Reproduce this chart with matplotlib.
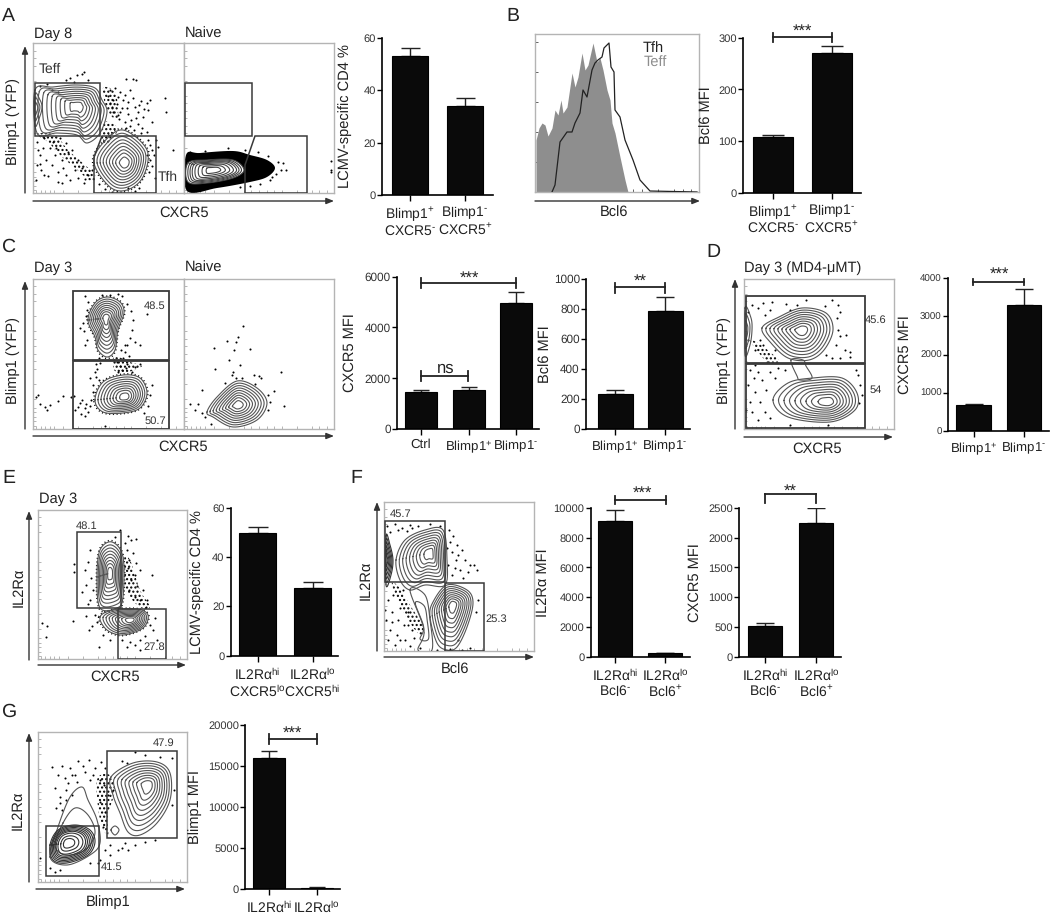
import matplotlib
matplotlib.use("Agg")
import matplotlib.pyplot as plt
import numpy as np
from matplotlib.patches import Polygon

plt.rcParams["font.family"] = ["Liberation Sans", "DejaVu Sans"]
plt.rcParams["mathtext.fontset"] = "custom"
plt.rcParams["mathtext.rm"] = "Liberation Sans"
plt.rcParams["mathtext.default"] = "regular"
plt.rcParams["text.hinting"] = "no_hinting"

W, H = 1050, 915
RINGS = [1, .9, .8, .7, .6, .5, .4, .3, .18]
TIGHT = [1, .93, .86, .79, .72, .65, .55, .4, .25]
FEW = [1, .7, .4]

# bar values
a_vals, a_tops = [53, 34], [56.2, 37.2]
b_vals, b_tops = [109, 270], [112, 284.5]
c1_vals, c1_tops = [1445, 1550, 4975], [1535, 1665, 5385]
c2_vals, c2_tops = [235, 790], [260, 882]
d_vals, d_tops = [670, 3300], [700, 3700]
e_vals, e_tops = [49.6, 27.3], [52.3, 29.8]
f1_vals, f1_tops = [9130, 250], [9844, 280]
f2_vals, f2_tops = [513, 2238], [575, 2494]
g_vals, g_tops = [15950, 120], [16860, 150]

PLUS, MINUS = "$^{+}$", r"$^{\text{-}}$"
blimp_labels = ["Blimp1" + PLUS + "\nCXCR5" + MINUS, "Blimp1" + MINUS + "\nCXCR5" + PLUS]
blimp_short = ["Blimp1" + PLUS, "Blimp1" + MINUS]
c1_labels = ["Ctrl", "Blimp1" + PLUS, "Blimp1" + MINUS]
e_labels = ["IL2Rα$^{hi}$\nCXCR5$^{lo}$", "IL2Rα$^{lo}$\nCXCR5$^{hi}$"]
f_labels = ["IL2Rα$^{hi}$\nBcl6" + MINUS, "IL2Rα$^{lo}$\nBcl6" + PLUS]
g_labels = ["IL2Rα$^{hi}$", "IL2Rα$^{lo}$"]

# flow cytometry shapes and dots, read in image pixels
a_teff = [(35, 90), (53, 87), (77, 85), (95, 88), (102, 100), (107, 112), (100, 133), (87, 143), (77, 135), (57, 133), (37, 133)]
a_tfh = [(94, 163), (103, 143), (123, 130), (147, 150), (143, 177), (127, 190), (110, 187)]
a_left = [(35, 94), (40, 100), (42, 107), (40, 116), (35, 126)]
a_neck = [(101, 135), (105, 122), (115, 125), (117, 132), (108, 143), (101, 142)]
a_band = [(36, 134), (55, 135), (68, 150), (85, 165), (95, 175), (92, 182), (75, 168), (60, 155), (48, 142)]
a_cloud = [(103, 88), (115, 92), (118, 110), (117, 120), (107, 110)]
a_dots = [(84, 72), (82, 74), (77, 75), (70, 78), (88, 80), (74, 82), (66, 80), (126, 79), (133, 79), (136, 80), (165, 98), (166, 112),
          (150, 100), (147, 103), (141, 101), (110, 90), (115, 88), (120, 92), (108, 96), (113, 100), (118, 97), (125, 95), (130, 90),
          (112, 107), (117, 104), (122, 108), (128, 102), (135, 107), (138, 112), (128, 114), (120, 112), (143, 117), (148, 110), (138, 124),
          (131, 120), (125, 122), (118, 115), (113, 112), (110, 103), (119, 119), (126, 128), (134, 130), (142, 128), (152, 122), (156, 140),
          (148, 140), (158, 147), (173, 150), (147, 132), (40, 86), (47, 84), (52, 90), (58, 92), (44, 138), (50, 148), (38, 150), (46, 160),
          (41, 170), (55, 155), (63, 168), (58, 182), (62, 183), (84, 183), (85, 179), (75, 170), (68, 152), (37, 142), (53, 142), (60, 138),
          (66, 143), (72, 150), (78, 160), (82, 168), (88, 175), (92, 170), (40, 164), (36, 180), (48, 176), (152, 166), (155, 178), (150, 160),
          (128, 188), (135, 191), (105, 189), (99, 184), (112, 192), (139, 188), (147, 155), (152, 150), (123, 100), (127, 108), (133, 98),
          (139, 105), (144, 109), (130, 126), (136, 118), (141, 133), (150, 145), (154, 155), (149, 172), (40, 155), (37, 165), (44, 175),
          (52, 165), (58, 172), (66, 175), (70, 180), (78, 178), (43, 148), (56, 148), (62, 160)]
a_naive_blob = [(186, 155), (200, 153), (233, 151), (250, 155), (267, 160), (275, 168), (267, 177), (250, 182), (217, 188), (187, 191)]
a_naive_core = [(188, 163), (207, 160), (233, 160), (244, 170), (233, 178), (207, 183), (188, 182)]
a_naive_dots = [(278, 162), (283, 163), (281, 170), (276, 174), (270, 180), (260, 184), (250, 186), (240, 187), (286, 170), (331, 161),
                (331, 170), (331, 172), (268, 156), (258, 152), (245, 150), (228, 148), (205, 151), (190, 152), (272, 177), (200, 190)]

hist_grey_x = [536, 539, 542, 545, 548, 552, 555, 558, 561, 563, 567, 572, 575, 578, 582, 585, 588, 593, 597, 600, 603, 607, 610, 612, 615, 620, 625, 628]
hist_grey_y = [140, 128, 123, 125, 136, 128, 110, 115, 100, 113, 107, 73, 87, 77, 53, 70, 65, 43, 62, 58, 70, 90, 100, 123, 133, 157, 180, 192]
hist_line_x = [552, 555, 560, 567, 572, 575, 580, 583, 587, 592, 595, 598, 602, 604, 609, 611, 614, 615, 620, 625, 633, 640, 650, 697]
hist_line_y = [192, 185, 142, 132, 132, 123, 113, 90, 97, 70, 63, 60, 57, 48, 43, 67, 72, 110, 117, 140, 160, 180, 191, 192]

c_top = [(88, 320), (95, 303), (107, 297), (120, 302), (124, 313), (118, 330), (115, 350), (107, 357), (98, 350), (95, 337)]
c_bot = [(95, 400), (103, 382), (123, 375), (140, 378), (147, 393), (140, 408), (123, 413), (103, 412)]
c_neck = [(115, 356), (130, 362), (142, 366), (128, 372), (115, 371), (113, 362)]
c_dots = [(85, 296), (88, 302), (87, 310), (86, 316), (83, 323), (80, 328), (84, 331), (87, 340), (85, 345), (102, 295), (110, 295), (118, 294),
          (122, 296), (127, 304), (131, 311), (133, 320), (132, 330), (130, 338), (135, 342), (140, 345), (147, 314), (127, 345), (125, 352),
          (123, 358), (117, 362), (120, 366), (127, 364), (135, 367), (140, 364), (118, 372), (100, 363), (97, 369), (96, 377), (93, 385),
          (99, 380), (93, 392), (91, 400), (90, 406), (88, 412), (85, 408), (80, 403), (74, 396), (71, 397), (63, 396), (58, 401), (50, 405),
          (47, 410), (45, 407), (38, 395), (36, 397), (40, 404), (75, 410), (85, 416), (105, 426), (152, 385), (150, 395), (148, 406), (144, 413),
          (125, 345), (121, 350), (129, 356), (114, 360), (122, 370), (132, 372), (126, 368), (99, 358), (96, 364), (95, 372), (90, 378),
          (82, 400), (78, 407), (81, 414), (86, 404)]
c_naive = [(207, 412), (217, 397), (237, 381), (257, 388), (267, 403), (257, 420), (233, 427), (213, 417)]
c_naive_dots = [(243, 326), (238, 337), (236, 342), (227, 341), (214, 348), (234, 350), (250, 349), (229, 360), (240, 365), (215, 369), (233, 372),
                (242, 378), (236, 378), (254, 375), (259, 376), (261, 378), (255, 384), (281, 372), (274, 391), (268, 395), (284, 406), (202, 390),
                (198, 404), (190, 404), (195, 410), (202, 413), (205, 417), (211, 424), (268, 410), (270, 402), (232, 375), (225, 383)]

d_top = [(762, 328), (779, 317), (802, 308), (826, 313), (833, 330), (824, 350), (809, 360), (788, 358), (771, 343)]
d_left = [(745, 308), (751, 318), (752, 330), (750, 345), (745, 355)]
d_bot = [(773, 400), (788, 383), (813, 378), (842, 378), (857, 393), (855, 410), (830, 422), (788, 417)]
d_neck = [(791, 360), (797, 376), (800, 380), (812, 378), (806, 366), (803, 360)]
d_band = [(750, 340), (758, 343), (770, 352), (780, 362), (770, 364), (758, 352)]
d_dots = [(748, 312), (752, 305), (758, 308), (763, 303), (765, 315), (770, 310), (772, 302), (786, 304), (790, 310), (797, 305), (806, 300),
          (825, 306), (832, 300), (838, 305), (840, 312), (837, 318), (838, 330), (836, 345), (840, 336), (846, 335), (845, 350), (850, 352),
          (826, 355), (832, 358), (850, 357), (840, 358), (750, 370), (754, 378), (748, 385), (758, 372), (762, 380), (755, 392), (750, 402),
          (760, 402), (766, 390), (770, 372), (775, 378), (752, 412), (765, 412), (758, 420), (770, 418), (746, 410), (778, 368), (767, 362),
          (785, 370), (755, 365), (790, 425), (828, 425), (858, 375), (860, 385), (856, 370), (859, 403), (862, 395), (748, 340), (755, 350),
          (760, 340), (763, 345), (775, 350)]

e_top = [(97, 577), (100, 550), (112, 542), (123, 557), (123, 597), (117, 608), (100, 608)]
e_bot = [(100, 617), (113, 610), (137, 609), (148, 615), (143, 628), (123, 635), (107, 630)]
e_band = [(124, 560), (130, 560), (140, 590), (150, 607), (140, 607), (126, 590)]
e_dots = [(125, 543), (131, 540), (136, 539), (127, 550), (133, 553), (129, 560), (136, 563), (128, 568), (135, 575), (140, 570), (131, 580), (137, 586),
          (143, 590), (129, 590), (135, 597), (147, 600), (152, 575), (140, 600), (146, 607), (90, 550), (88, 562), (85, 570), (91, 578), (86, 585),
          (82, 592), (74, 564), (74, 572), (93, 590), (90, 600), (88, 604), (95, 615), (97, 622), (92, 626), (89, 630), (86, 616), (42, 623), (47, 626),
          (46, 637), (73, 621), (122, 640), (130, 642), (135, 645), (127, 647), (140, 640), (145, 636), (150, 625), (155, 618), (153, 630), (157, 640),
          (140, 650), (99, 647), (110, 640), (103, 635), (120, 530), (115, 537), (128, 536)]

f_topl = [(386, 536), (390, 545), (393, 560), (391, 575), (386, 585)]
f_top = [(396, 560), (405, 540), (425, 530), (443, 530), (447, 560), (445, 585), (425, 585), (410, 590), (400, 580)]
f_bot = [(430, 617), (433, 602), (447, 585), (467, 590), (473, 603), (467, 627), (457, 647), (447, 650), (437, 643)]
f_stem = [(410, 590), (425, 595), (430, 620), (432, 650), (418, 650), (424, 630)]
f_band = [(392, 585), (398, 586), (410, 605), (424, 628), (420, 635), (405, 615)]
f_dots = [(387, 526), (395, 524), (402, 528), (410, 525), (418, 526), (430, 524), (440, 526), (390, 532), (398, 530), (407, 531), (412, 528),
          (449, 530), (453, 536), (457, 545), (462, 550), (452, 552), (456, 560), (465, 560), (470, 565), (460, 570), (452, 575), (474, 565),
          (468, 572), (477, 570), (448, 565), (450, 542), (388, 600), (392, 612), (398, 620), (390, 630), (404, 625), (388, 640), (397, 635),
          (405, 640), (412, 630), (386, 620), (395, 645), (410, 646), (420, 648), (393, 595), (400, 608), (408, 612), (414, 638), (403, 590),
          (437, 650), (450, 649), (462, 650), (470, 648), (478, 600), (476, 612), (458, 640), (400, 640), (392, 622), (385, 610), (408, 625),
          (455, 568), (463, 578), (458, 555), (447, 548)]

g_top = [(111, 777), (133, 763), (157, 762), (170, 773), (170, 800), (157, 823), (140, 835), (128, 832), (120, 813), (113, 795)]
g_mid = [(50, 857), (58, 827), (70, 797), (82, 787), (88, 800), (97, 820), (100, 843), (90, 855), (67, 865)]
g_mid2 = [(63, 823), (75, 808), (88, 815), (95, 833), (85, 850), (65, 855), (55, 845)]
g_low = [(50, 845), (58, 830), (75, 825), (90, 830), (95, 842), (88, 855), (67, 863), (53, 860)]
g_spot = [(111, 830), (115, 826), (119, 830), (115, 835)]
g_band = [(97, 780), (110, 775), (115, 790), (108, 815), (108, 835), (100, 820)]
g_dots = [(52, 767), (62, 766), (70, 768), (78, 761), (89, 760), (101, 762), (95, 768), (85, 772), (75, 775), (65, 778), (55, 788), (60, 797),
          (68, 783), (77, 782), (90, 780), (100, 780), (105, 768), (62, 810), (56, 808), (66, 800), (72, 795), (122, 761), (127, 763), (135, 752),
          (145, 755), (160, 757), (172, 758), (174, 790), (172, 805), (110, 845), (118, 850), (125, 843), (135, 845), (145, 842), (155, 840),
          (105, 850), (110, 855), (100, 860), (90, 863), (98, 863), (40, 858), (50, 868), (55, 872), (60, 870), (103, 827), (105, 812), (100, 802),
          (108, 795), (104, 785), (113, 790), (122, 848), (128, 850), (58, 775), (66, 790), (72, 775), (60, 803), (83, 766), (93, 775)]


def px_rect(x0, x1, y0, y1):
    return [x0 / W, 1 - y1 / H, (x1 - x0) / W, (y1 - y0) / H]


def smooth(pts, n=10):
    # closed catmull-rom through the outline
    p = np.array(pts, float)
    t = np.linspace(0, 1, n, endpoint=False)[:, None]
    out = []
    for i in range(len(p)):
        p0, p1, p2, p3 = p[i - 1], p[i], p[(i + 1) % len(p)], p[(i + 2) % len(p)]
        out.append(.5 * (2 * p1 + (p2 - p0) * t + (2 * p0 - 5 * p1 + 4 * p2 - p3) * t ** 2 + (3 * p1 - p0 - 3 * p2 + p3) * t ** 3))
    out = np.vstack(out)
    return np.vstack([out, out[:1]])


def rings(ax, outline, center=None, scales=RINGS, color="#555555", lw=.8):
    p = smooth(outline)
    c = np.mean(outline, axis=0) if center is None else np.array(center)
    for s in scales:
        r = c + (p - c) * s
        ax.plot(r[:, 0], r[:, 1], color=color, lw=lw, zorder=3)


def halo(ax, outline, center=None, scale=1.04, lw=1.2):
    # the dense dots that sit against the outer contour
    p = smooth(outline)
    c = np.mean(outline, axis=0) if center is None else np.array(center)
    r = c + (p - c) * scale
    ax.plot(r[:, 0], r[:, 1], color="black", lw=lw, ls=(0, (.6, 1.6)), zorder=2)


def stipple(ax, outline):
    ax.add_patch(Polygon(smooth(outline), closed=True, fc="none", ec="black", lw=0, hatch="....", zorder=2))


def flow_axes(x0, x1, y0, y1, tick_color="#999999"):
    ax = fig.add_axes(px_rect(x0, x1, y0, y1))
    ax.set_xlim(x0, x1)
    ax.set_ylim(y1, y0)
    for s in ax.spines.values():
        s.set_color("#b4b4b4")
        s.set_linewidth(1)
    log_steps = [.02, .05, .08, .11, .14, .2, .3, .4, .45, .5, .55, .6, .65, .75, .85, .9, .95]
    ax.set_xticks([x0 + f * (x1 - x0) for f in log_steps])
    ax.set_yticks([y1 - f * (y1 - y0) for f in log_steps])
    ax.tick_params(direction="in", length=2, width=.5, color=tick_color, labelbottom=False, labelleft=False)
    return ax


def dots(ax, pts):
    xy = np.array(pts)
    ax.scatter(xy[:, 0], xy[:, 1], s=2.2, c="black", lw=0, zorder=2)


def gate(ax, pts, lw=1.1):
    ax.add_patch(Polygon(pts, closed=True, fill=False, ec="#3a3a3a", lw=lw, zorder=4))


def gate_box(ax, x0, x1, y0, y1, lw=1.1):
    gate(ax, [(x0, y0), (x1, y0), (x1, y1), (x0, y1)], lw)


def note(ax, x, y, s, size=8, color="#333333"):
    ax.text(x, y, s, fontsize=size, ha="center", va="center", color=color, zorder=5)


def bars(x0, x1, y0, y1, ymax, ticks, centers, width, vals, tops, labels, ylabel, label_x, tick_size=8, cat_size=10):
    ax = fig.add_axes(px_rect(x0, x1, y0, y1))
    ax.set_xlim(x0, x1)
    ax.set_ylim(0, ymax)
    ax.bar(centers, vals, width=width, color="#0a0a0a", ec="black", lw=.8, zorder=2)
    ax.errorbar(centers, vals, yerr=[np.zeros(len(vals)), np.array(tops) - np.array(vals)], fmt="none",
                ecolor="#222222", elinewidth=1, capthick=1, capsize=width * .19, zorder=1)
    for s in ("top", "right"):
        ax.spines[s].set_visible(False)
    ax.spines["left"].set_linewidth(1.2)
    ax.spines["bottom"].set_linewidth(1.2)
    ax.set_yticks(ticks)
    ax.set_xticks(centers)
    ax.set_xticklabels(labels, fontsize=cat_size, color="#222222", linespacing=1.05)
    ax.tick_params(axis="y", labelsize=tick_size, length=3.5, width=1, pad=1, labelcolor="#333333")
    ax.tick_params(axis="x", length=4, width=1, pad=3)
    ax.set_ylabel(ylabel, fontsize=10.5, color="#222222")
    ax.yaxis.set_label_coords((label_x - x0) / (x1 - x0), .5)
    ax.patch.set_alpha(0)
    return ax


def bracket(x0, x1, y, y_cap0, y_cap1, mark, mark_x, mark_y, size=12):
    page.plot([x0, x1], [y, y], color="#222222", lw=1.3)
    page.plot([x0, x0], [y_cap0, y_cap1], color="#222222", lw=1.3)
    page.plot([x1, x1], [y_cap0, y_cap1], color="#222222", lw=1.3)
    if mark:
        page.text(mark_x, mark_y, mark, fontsize=size, ha="center", va="center", color="#222222")


def arrow(x0, y0, x1, y1, color="#333333"):
    page.annotate("", xy=(x1, y1), xytext=(x0, y0),
                  arrowprops=dict(arrowstyle="-|>,head_width=.18,head_length=.45", color=color, lw=1, shrinkA=0, shrinkB=0))


def label(x, y, s, size=10.5, rotation=0, ha="center", color="#222222"):
    page.text(x, y, s, fontsize=size, rotation=rotation, ha=ha, va="center", color=color)


fig = plt.figure(figsize=(W / 100, H / 100), dpi=100)

# A flow
ax = flow_axes(33, 184, 43, 193)
dots(ax, a_dots)
stipple(ax, a_band)
stipple(ax, a_neck)
stipple(ax, a_cloud)
halo(ax, a_tfh, (125, 163))
rings(ax, a_teff, (78, 106))
rings(ax, a_left, (35, 108), FEW)
rings(ax, a_tfh, (125, 163))
gate_box(ax, 35, 100, 83, 136)
gate(ax, [(94, 193), (94, 157), (102, 136), (156, 136), (156, 193)])
note(ax, 50, 69, "Teff", 10)
note(ax, 168, 177, "Tfh", 10)
ax = flow_axes(184, 334, 43, 193)
dots(ax, a_naive_dots)
ax.add_patch(Polygon(smooth(a_naive_blob), closed=True, fc="black", ec="none", zorder=2))
ax.add_patch(Polygon(smooth(a_naive_core), closed=True, fc="white", ec="none", zorder=2))
rings(ax, a_naive_core, (213, 170), [1, .92, .84, .76, .66, .54, .4, .25], "#444444")
gate_box(ax, 185, 252, 83, 136)
gate(ax, [(245, 193), (245, 165), (255, 136), (307, 136), (307, 193)])

# B histogram
ax = flow_axes(535, 699, 34, 192, "#222222")
ax.set_yticks([42, 72, 102, 132, 162])
ax.fill_between(hist_grey_x, hist_grey_y, 192, color="#8e8e8e", lw=0, zorder=2)
ax.plot(hist_line_x, hist_line_y, color="#222222", lw=.9, zorder=3)
note(ax, 653.5, 48, "Tfh", 10.5, "#222222")
note(ax, 655, 63, "Teff", 10.5, "#8e8e8e")

# C flow
ax = flow_axes(33, 184, 279, 429)
dots(ax, c_dots)
stipple(ax, c_neck)
halo(ax, c_top, (106, 318))
halo(ax, c_bot, (125, 397))
rings(ax, c_top, (106, 318))
rings(ax, c_bot, (125, 397))
gate_box(ax, 73, 169, 291, 360, 1.3)
gate_box(ax, 73, 169, 361, 429, 1.3)
note(ax, 155, 306, "48.5")
note(ax, 155, 421, "50.7")
ax = flow_axes(184, 334, 279, 429)
dots(ax, c_naive_dots)
rings(ax, c_naive, (238, 405))

# D flow
ax = flow_axes(744, 894, 279, 429)
dots(ax, d_dots)
stipple(ax, d_band)
rings(ax, d_top, (802, 330))
rings(ax, d_left, (745, 330), FEW)
rings(ax, d_neck, None, [1])
rings(ax, d_bot, (828, 402))
gate_box(ax, 746, 865, 296, 363, 1.3)
gate_box(ax, 746, 865, 364, 428, 1.3)
note(ax, 876, 320, "45.6")
note(ax, 876, 390, "54")

# E flow
ax = flow_axes(38, 187, 510, 659)
dots(ax, e_dots)
stipple(ax, e_band)
halo(ax, e_top, (110, 573))
halo(ax, e_bot, (131, 620))
rings(ax, e_top, (110, 573))
rings(ax, e_bot, (131, 620))
gate_box(ax, 77, 121, 532, 608)
gate(ax, [(118, 659), (118, 609), (166, 609), (166, 659)])
note(ax, 87, 526, "48.1")
note(ax, 154.5, 647.5, "27.8")

# F flow
ax = flow_axes(384, 534, 502, 651)
dots(ax, f_dots)
stipple(ax, f_band)
rings(ax, f_top, (430, 553))
rings(ax, f_topl, (386, 560), [1, .85, .7, .55, .4, .25], "#333333")
rings(ax, f_bot, (453, 605))
rings(ax, f_stem, None, [1, .6])
gate_box(ax, 385, 445, 521, 582)
gate(ax, [(445, 651), (445, 583), (484, 583), (484, 651)])
note(ax, 401, 514.5, "45.7")
note(ax, 496, 619, "25.3")

# G flow
ax = flow_axes(38, 187, 732, 882)
dots(ax, g_dots)
stipple(ax, g_band)
rings(ax, g_top, (148, 785))
rings(ax, g_mid, None, [1])
rings(ax, g_mid2, None, [1])
rings(ax, g_low, (68, 843), TIGHT, "#333333")
rings(ax, g_spot, None, [1])
gate_box(ax, 46, 99, 826, 876)
gate_box(ax, 107, 177, 751, 838)
note(ax, 163.7, 743, "47.9")
note(ax, 111.7, 866.7, "41.5")

# bar panels
bars(382, 493, 37.7, 195.3, 60, [0, 20, 40, 60], [409.8, 465], 36, a_vals, a_tops, blimp_labels, "LCMV-specific CD4 %", 352)
bars(743, 861, 37.7, 193, 300, [0, 100, 200, 300], [772.7, 831.5], 40, b_vals, b_tops, blimp_labels, "Bcl6 MFI", 714)
bars(397, 539, 276.7, 429, 6000, [0, 2000, 4000, 6000], [421, 468.5, 516], 32, c1_vals, c1_tops, c1_labels, "CXCR5 MFI", 357, 8.5, 9.5)
bars(586, 690, 279, 429, 1000, [0, 200, 400, 600, 800, 1000], [615, 665], 35, c2_vals, c2_tops, blimp_short, "Bcl6 MFI", 553, 8.5, 9.5)
bars(948, 1049, 278, 431, 4000, [0, 1000, 2000, 3000, 4000], [973.5, 1024], 34.5, d_vals, d_tops, blimp_short, "CXCR5 MFI", 912, 7, 9.5)
bars(230.7, 338, 507.7, 655.7, 60, [0, 20, 40, 60], [257.5, 312.5], 37, e_vals, e_tops, e_labels, "LCMV-specific CD4 %", 204)
bars(590.7, 690, 507.7, 657, 10000, [0, 2000, 4000, 6000, 8000, 10000], [615, 665.5], 34, f1_vals, f1_tops, f_labels, "IL2Rα MFI", 550)
bars(739, 841, 507.7, 657, 2500, [0, 500, 1000, 1500, 2000, 2500], [765, 816], 34, f2_vals, f2_tops, f_labels, "CXCR5 MFI", 702)
bars(245.3, 340, 725.3, 888.7, 20000, [0, 5000, 10000, 15000, 20000], [269, 316.7], 32, g_vals, g_tops, g_labels, "Blimp1 MFI", 202)

# page overlay in image pixels, for text, arrows and brackets
page = fig.add_axes([0, 0, 1, 1])
page.set_xlim(0, W)
page.set_ylim(H, 0)
page.axis("off")
page.patch.set_alpha(0)

for letter, x, y in [("A", 8, 16), ("B", 513, 16), ("C", 8, 247), ("D", 713, 252), ("E", 9, 478), ("F", 356, 478), ("G", 9, 712)]:
    label(x, y, letter, 14)

for s, x, y in [("Day 8", 34, 34), ("Naive", 185, 34), ("Day 3", 34, 268), ("Naive", 185, 268), ("Day 3 (MD4-μMT)", 744, 268), ("Day 3", 39, 499)]:
    label(x, y, s, 10.5, ha="left")

for s, x, y in [("CXCR5", 184, 213), ("Bcl6", 614, 213), ("CXCR5", 183, 447), ("CXCR5", 817, 449), ("CXCR5", 115, 677), ("Bcl6", 455, 670), ("Blimp1", 108, 902)]:
    label(x, y, s)

for s, x, y in [("Blimp1 (YFP)", 13, 122), ("Blimp1 (YFP)", 13, 361), ("Blimp1 (YFP)", 724, 361), ("IL2Rα", 19, 587), ("IL2Rα", 366, 580), ("IL2Rα", 18, 810)]:
    label(x, y, s, rotation=90)

for x0, y0, x1, y1 in [(25, 193, 25, 46), (33, 201, 334, 201), (535, 201, 700, 201), (25, 429, 25, 281), (33, 436, 334, 436),
                       (735, 429, 735, 279), (744, 437, 893, 437), (29, 660, 29, 511), (38, 665, 186, 665),
                       (377, 651, 377, 502), (384, 657, 534, 657), (29, 882, 29, 733), (36, 889, 185, 889)]:
    arrow(x0, y0, x1, y1)

bracket(772.7, 832, 37.3, 33, 42, "***", 802, 31)
bracket(421, 516, 282.7, 278, 288, "***", 469, 278)
bracket(421, 468, 376, 371, 381, "", 446, 368)
label(446, 368, "ns", 12)
bracket(615, 665, 287, 283, 293, "**", 640, 281)
bracket(972.7, 1024, 281.7, 279, 285, "***", 999, 274)
bracket(615, 665.7, 500, 496, 504, "***", 642, 493)
bracket(765, 816, 494, 494, 503, "**", 790.7, 491)
bracket(269, 316.7, 739, 734, 744, "***", 292.7, 733)

fig.savefig("out.png", dpi=100)
